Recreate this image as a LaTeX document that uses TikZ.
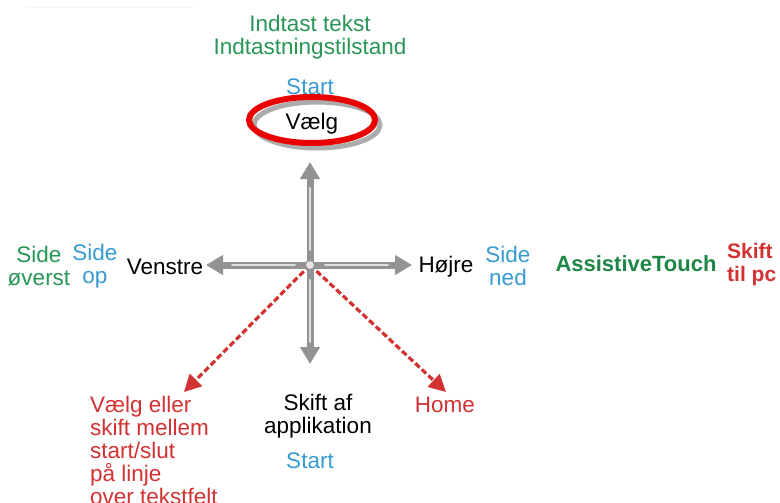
\documentclass[tikz,border=0pt]{standalone}
\usepackage{fontspec}
\setmainfont{Liberation Sans}
\usetikzlibrary{arrows.meta}
\definecolor{tgreen}{RGB}{40,150,85}
\definecolor{dgreen}{RGB}{30,135,70}
\definecolor{tblue}{RGB}{55,155,210}
\definecolor{tred}{RGB}{210,50,50}
\definecolor{ered}{RGB}{235,0,0}
\begin{document}
\begin{tikzpicture}[x=1pt,y=-1pt,
  lbl/.style={inner sep=0pt,font=\fontsize{22.5}{23}\selectfont,align=center},
  lbll/.style={lbl,align=left},
  grayarrow/.style={line width=7pt,color=gray!85!white,-{Triangle[length=17pt,width=19pt]}},
  grayshine/.style={line width=2pt,color=gray!25,line cap=round},
  reddash/.style={line width=3.2pt,color=tred,dash pattern=on 6pt off 3pt,-{Triangle[length=17pt,width=17pt]}}]
\useasboundingbox (0,0) rectangle (780,503);
\fill[white] (0,0) rectangle (780,503);
\draw[gray!8,line width=1pt] (27,8) -- (195,8);
% texts
\node[lbl,text=tgreen] (t1) at (310,37) {Indtast tekst\\Indtastningstilstand};
\node[lbl,text=tblue] (st1) at (310,87) {Start};
% ellipse
\draw[gray!65,line width=5pt] (317,125) ellipse [x radius=63,y radius=23];
\draw[ered,line width=6pt] (312,120) ellipse [x radius=63,y radius=23];
\node[lbl] (v) at (312,124) {Vælg};
% cross
\coordinate (c) at (310,265);
\coordinate (up) at (310,162);
\coordinate (dn) at (310,364);
\coordinate (lf) at (206,265);
\coordinate (rt) at (412,265);
\coordinate (dl) at (184,392);
\coordinate (dr) at (446,392);
\draw[reddash] (c) -- (dl);
\draw[reddash] (c) -- (dr);
\draw[grayarrow] (c) -- (up);
\draw[grayarrow] (c) -- (dn);
\draw[grayarrow] (c) -- (lf);
\draw[grayarrow] (c) -- (rt);
\draw[grayshine] (310,250) -- (310,188);
\draw[grayshine] (310,280) -- (310,342);
\draw[grayshine] (295,265) -- (232,265);
\draw[grayshine] (325,265) -- (388,265);
\node[circle,draw=gray!80,fill=gray!20,line width=1pt,minimum size=9pt,inner sep=0pt] (cc) at (c) {};
% left
\node[lbl] (ven) at (165,267) {Venstre};
\node[lbl,text=tblue] (sop) at (95,266) {Side\\op};
\node[lbl,text=tgreen] (sov) at (39,266) {Side\\øverst};
% right
\node[lbl] (hoj) at (446,267) {Højre};
\node[lbl,text=tblue] (sned) at (508,266) {Side\\ned};
\node[lbl,text=dgreen,font=\fontsize{22}{23}\selectfont\bfseries] (at) at (636,264) {AssistiveTouch};
\node[lbll,text=tred,font=\fontsize{21}{23}\selectfont\bfseries,anchor=west] (pc) at (727,265) {Skift\\til pc};
% bottom
\node[lbll,text=tred,anchor=north west] (vel) at (90,396) {Vælg eller\\skift mellem\\start/slut\\på linje\\over tekstfelt};
\node[lbl] (sa) at (318,416) {Skift af\\applikation};
\node[lbl,text=tblue] (st2) at (310,461) {Start};
\node[lbl,text=tred] (home) at (445,405) {Home};
\end{tikzpicture}
\end{document}
